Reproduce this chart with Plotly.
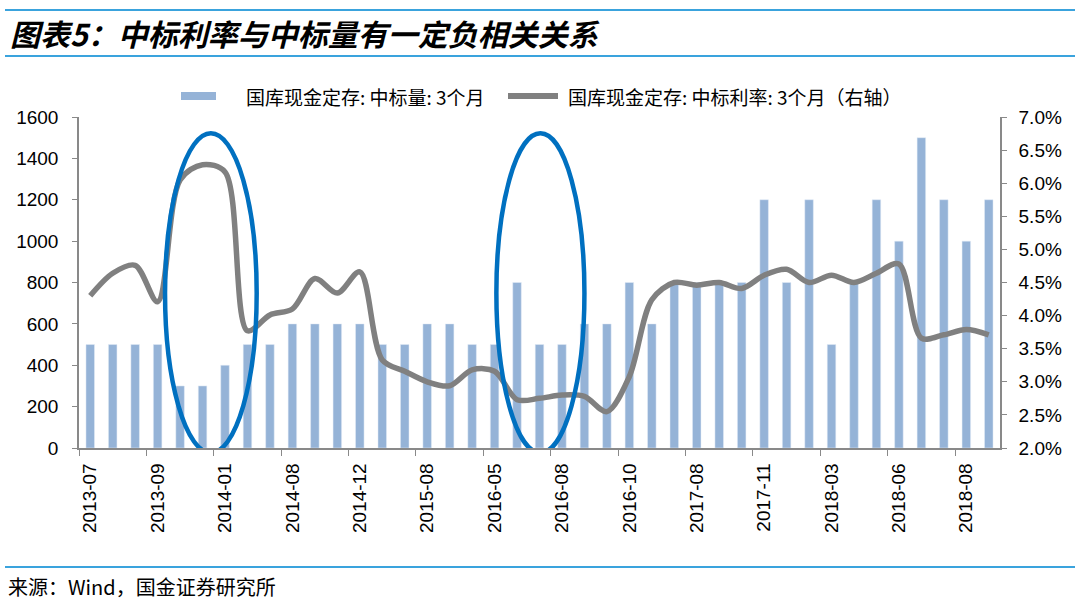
import plotly.graph_objects as go

# auction months (one per auction); every third one is labelled on the axis
dates = ["2013-07", "2013-08", "2013-08", "2013-09", "2013-10", "2013-11",
         "2014-01", "2014-03", "2014-05", "2014-08", "2014-09", "2014-11",
         "2014-12", "2015-03", "2015-05", "2015-08", "2015-10", "2016-01",
         "2016-05", "2016-06", "2016-07", "2016-08", "2016-09", "2016-09",
         "2016-10", "2017-05", "2017-07", "2017-08", "2017-09", "2017-10",
         "2017-11", "2017-12", "2018-01", "2018-03", "2018-04", "2018-05",
         "2018-06", "2018-07", "2018-07", "2018-08", "2018-09"]

volume = [500, 500, 500, 500, 300, 300, 400, 500, 500, 600, 600, 600, 600,
          500, 500, 600, 600, 500, 500, 800, 500, 500, 600, 600, 800, 600,
          800, 800, 800, 800, 1200, 800, 1200, 500, 800, 1200, 1000, 1500,
          1200, 1000, 1200]

rate = [4.30, 4.64, 4.76, 4.21, 6.05, 6.28, 6.17, 3.77, 4.01, 4.10, 4.56,
        4.34, 4.66, 3.33, 3.16, 3.00, 2.94, 3.18, 3.16, 2.73, 2.75, 2.80,
        2.78, 2.55, 3.08, 4.24, 4.50, 4.46, 4.50, 4.41, 4.61, 4.70, 4.50,
        4.61, 4.50, 4.64, 4.78, 3.66, 3.71, 3.79, 3.71]

bar_name = "国库现金定存: 中标量: 3个月"
line_name = "国库现金定存: 中标利率: 3个月（右轴）"
title_text = "图表5：中标利率与中标量有一定负相关关系"
source_text = "来源：Wind，国金证券研究所"

BAR_COLOR = "#95B3D7"
LINE_COLOR = "#808080"
RULE_COLOR = "#3AA3DD"

idx = list(range(len(dates)))
tick_idx = idx[::3]
tick_txt = [dates[i] for i in tick_idx]

fig = go.Figure()
fig.add_trace(go.Bar(x=idx, y=volume, name=bar_name, marker_color=BAR_COLOR,
                     width=0.38, showlegend=False))
fig.add_trace(go.Scatter(x=idx, y=rate, name=line_name, yaxis="y2",
                         mode="lines", showlegend=False,
                         line=dict(color=LINE_COLOR, width=5.5,
                                   shape="spline", smoothing=0.9)))

L, R, T, B = 79, 80, 117, 165
W, H = 1080, 613
PW, PH = W - L - R, H - T - B


def px(x):
    return (x - L) / PW


def py(y):
    return (H - B - y) / PH


axis_font = dict(family="Arial, Liberation Sans, sans-serif", size=19,
                 color="#000000")
fig.update_layout(
    width=W, height=H,
    margin=dict(l=L, r=R, t=T, b=B),
    paper_bgcolor="white", plot_bgcolor="white",
    showlegend=False,
    xaxis=dict(range=[-0.5, len(dates) - 0.5], tickmode="array",
               tickvals=tick_idx, ticktext=tick_txt, tickangle=-90,
               ticks="", showgrid=False, zeroline=False,
               showline=True, linecolor="#898989", linewidth=1.5,
               tickfont=axis_font, ticklabelstandoff=6,
               minor=dict(tickmode="array",
                          tickvals=[i - 0.5 for i in tick_idx],
                          ticks="outside", ticklen=6, tickcolor="#898989",
                          showgrid=False)),
    yaxis=dict(range=[0, 1600], dtick=200, showgrid=False, zeroline=False,
               showline=True, linecolor="#898989", linewidth=1.5,
               ticks="outside", ticklen=5, tickcolor="#898989",
               tickfont=axis_font, ticklabelstandoff=10),
    yaxis2=dict(range=[2.0, 7.0], dtick=0.5, overlaying="y", side="right",
                showgrid=False, zeroline=False, showline=True,
                linecolor="#898989", linewidth=1.5, ticks="outside",
                ticklen=5, tickcolor="#898989", tickformat=".1f",
                ticksuffix="%", tickfont=axis_font, ticklabelstandoff=8),
)

# highlight ellipses
for x0, x1 in [(3.33, 7.41), (18.08, 22.0)]:
    fig.add_shape(type="circle", xref="x", yref="y", x0=x0, x1=x1,
                  y0=-23, y1=1521, line=dict(color="#0070C0", width=4.5))

# header / footer rules
for yy in [10, 56, 567]:
    fig.add_shape(type="line", xref="paper", yref="paper",
                  x0=px(5), x1=px(1075), y0=py(yy), y1=py(yy),
                  line=dict(color=RULE_COLOR, width=2))

# custom legend
fig.add_shape(type="rect", xref="paper", yref="paper",
              x0=px(181), x1=px(216), y0=py(100), y1=py(92),
              fillcolor=BAR_COLOR, line=dict(width=0))
fig.add_shape(type="line", xref="paper", yref="paper",
              x0=px(508), x1=px(558), y0=py(96), y1=py(96),
              line=dict(color=LINE_COLOR, width=6))
leg_font = dict(family="Noto Sans CJK SC", size=19, color="#000000")
fig.add_annotation(text=bar_name, xref="paper", yref="paper",
                   x=px(244), y=py(96), xanchor="left", yanchor="middle",
                   showarrow=False, font=leg_font)
fig.add_annotation(text=line_name, xref="paper", yref="paper",
                   x=px(566), y=py(96), xanchor="left", yanchor="middle",
                   showarrow=False, font=leg_font)

fig.add_annotation(text="<b><i>" + title_text + "</i></b>", xref="paper",
                   yref="paper", x=px(8), y=py(33), xanchor="left",
                   yanchor="middle", showarrow=False,
                   font=dict(family="Noto Sans CJK SC", size=30,
                             color="#000000"))
fig.add_annotation(text=source_text, xref="paper", yref="paper",
                   x=px(6), y=py(586), xanchor="left",
                   yanchor="middle", showarrow=False,
                   font=dict(family="Noto Sans CJK SC", size=20,
                             color="#000000"))

fig.write_html("out.html")
